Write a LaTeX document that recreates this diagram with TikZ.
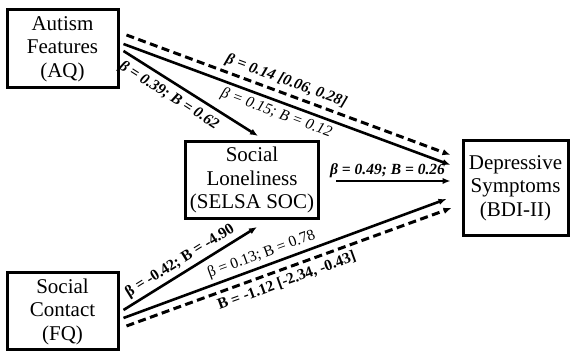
\documentclass[tikz,border=0pt]{standalone}
\usepackage{fontspec}
\setmainfont{Liberation Serif}
\usetikzlibrary{arrows.meta}

\tikzset{
  box/.style={draw, line width=3pt, align=center, inner sep=0pt,
    font=\fontsize{21}{23.5}\selectfont},
  link/.style={line width=2.6pt, -{Latex[length=8pt,width=6.5pt]}},
  dlink/.style={link, line width=3pt, dash pattern=on 8pt off 4.5pt},
  lab/.style={font=\fontsize{15.5}{17}\selectfont, sloped, inner sep=3.5pt},
}

\begin{document}
\begin{tikzpicture}[x=1pt,y=1pt]
\useasboundingbox (0,0) rectangle (571,352);

% variables
\node[box, minimum width=111pt, minimum height=78pt] (aq) at (62.5,303) {Autism\\Features\\(AQ)};
\node[box, minimum width=111pt, minimum height=77pt] (fq) at (62.5,40.5) {Social\\Contact\\(FQ)};
\node[box, minimum width=133pt, minimum height=77pt] (soc) at (252,172) {Social\\Loneliness\\(SELSA SOC)};
\node[box, minimum width=105pt, minimum height=95pt] (bdi) at (515.5,164) {Depressive\\Symptoms\\(BDI-II)};

% paths from AQ
\draw[dlink] ([xshift=7pt,yshift=14pt]aq.east) -- ([xshift=-11pt,yshift=33pt]bdi.west)
  node[lab, pos=0.48, above] (lq1) {\bfseries\itshape β = 0.14 [0.06, 0.28]};
\draw[link] ([xshift=4pt,yshift=5pt]aq.east) -- ([xshift=-11pt,yshift=23pt]bdi.west)
  node[lab, pos=0.48, below] (lq2) {\itshape β = 0.15; B = 0.12};
\draw[link] ([xshift=4pt,yshift=-2pt]aq.east) -- ([xshift=6pt,yshift=4pt]soc.north)
  node[lab, pos=0.39, below, inner sep=5pt] (lq3) {\bfseries\itshape β = 0.39; B = 0.62};

% mediator
\draw[link] ([xshift=16pt,yshift=-1pt]soc.east) -- ([xshift=-11pt,yshift=7pt]bdi.west)
  node[lab, pos=0.45, above, inner sep=2pt] (ls1) {\bfseries\itshape β = 0.49; B = 0.26};

% paths from FQ
\draw[link] ([xshift=4pt,yshift=1.5pt]fq.east) -- ([xshift=5pt,yshift=-7pt]soc.south)
  node[lab, pos=0.47, above] (lf1) {\bfseries β = -0.42; B = -4.90};
\draw[link] ([xshift=4pt,yshift=-6.5pt]fq.east) -- ([xshift=-15pt,yshift=-11pt]bdi.west)
  node[lab, pos=0.44, above] (lf2) {β = 0.13; B = 0.78};
\draw[dlink] ([xshift=7pt,yshift=-14.5pt]fq.east) -- ([xshift=-10pt,yshift=-20pt]bdi.west)
  node[lab, pos=0.48, below, inner sep=4.5pt] (lf3) {\bfseries B = -1.12 [-2.34, -0.43]};
\end{tikzpicture}
\end{document}
